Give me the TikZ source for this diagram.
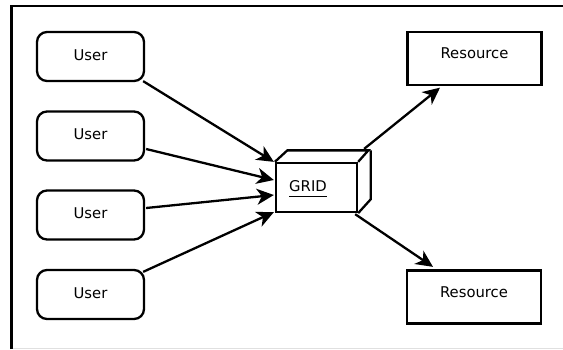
\documentclass[tikz,border=0pt]{standalone}
\usepackage{fontspec}
\setmainfont{DejaVu Sans}
\usetikzlibrary{arrows.meta,calc}

\begin{document}
\begin{tikzpicture}[x=1bp,y=-1bp,
  every node/.style={font=\fontsize{14.8bp}{17bp}\selectfont, inner sep=0pt},
  userbox/.style={draw, line width=2.3bp, rounded corners=10bp,
    minimum width=107bp, minimum height=49bp,
    text height=10.8bp, text depth=3.6bp},
  resbox/.style={draw, line width=2.3bp,
    minimum width=134bp, minimum height=53bp,
    text height=10.8bp, text depth=10bp},
  gridface/.style={draw, line width=2.3bp, minimum width=81bp, minimum height=49bp},
  link/.style={line width=2.3bp, -{Stealth[length=17bp, width=16bp, inset=5bp]}}
]
\useasboundingbox (0,0) rectangle (563,349);

% outer frame
\draw[line width=2.3bp] (11.5,349) -- (11.5,6) -- (563,6);
\draw[black!12, line width=1bp] (12.5,348.3) -- (563,348.3);

% users
\node[userbox] (u1) at (90.5,56.5)  {User};
\node[userbox] (u2) at (90.5,136)   {User};
\node[userbox] (u3) at (90.5,215)   {User};
\node[userbox] (u4) at (90.5,294.5) {User};

% resources
\node[resbox] (r1) at (474.5,58.5) {Resource};
\node[resbox] (r2) at (474,297)    {Resource};

% grid cuboid
\node[gridface] (grid) at (316.5,187.5) {};
\draw[line width=2.3bp, line join=miter]
  (grid.north west) -- ++(12.5,-11.5) -- ++(81,0) -- (grid.north east)
  ($(grid.north east)+(12.5,-11.5)$) -- ++(0,49) -- (grid.south east);
\node[anchor=base] (gridtxt) at (308,191) {GRID};
\draw[line width=1bp] ([yshift=-5.5bp]gridtxt.south west) -- ([yshift=-5.5bp]gridtxt.south east);

% users to grid
\draw[link] ($(u1.south east)+(-2,-1)$) -- ($(grid.north west)+(-1,0)$);
\draw[link] ($(u2.east)+(1,13)$) -- ($(grid.west)+(-1,-7.5)$);
\draw[link] ($(u3.east)+(1,-7)$) -- ($(grid.west)+(-1,7.5)$);
\draw[link] ($(u4.north east)+(-2,3)$) -- ($(grid.south west)+(-1,-1)$);

% grid to resources
\draw[link] ($(grid.north east)+(6,-13)$) -- ($(r1.south)+(-34.5,1.5)$);
\draw[link] ($(grid.south east)+(-3,1)$) -- ($(r2.north)+(-41,-2.5)$);
\end{tikzpicture}
\end{document}
